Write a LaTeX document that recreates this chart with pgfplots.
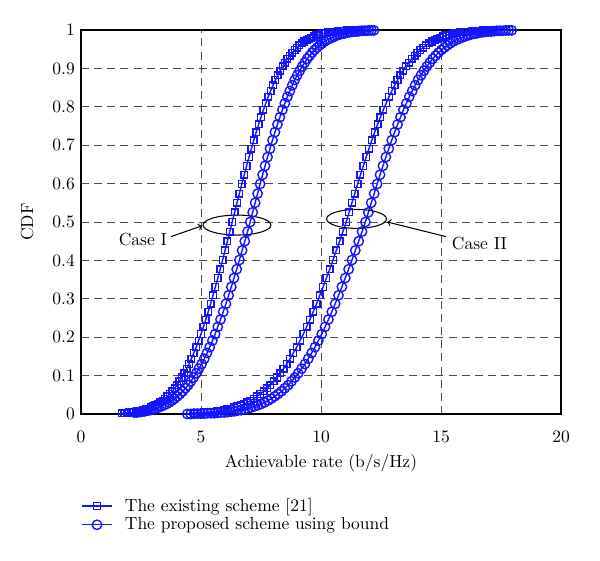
\documentclass[border=0pt]{standalone}
\usepackage{pgfplots}
\pgfplotsset{compat=1.18}
\usepackage{pgfplotstable}
\definecolor{cblue}{RGB}{20,20,255}
\pgfplotstableread{
c xa xb xc xd
0.000 nan nan nan 4.43
0.000 nan nan nan 4.57
0.001 nan nan nan 4.71
0.001 nan nan nan 4.85
0.001 nan nan nan 4.99
0.001 nan nan nan 5.13
0.002 nan nan nan 5.27
0.002 1.7 nan 4.725 5.41
0.002 1.8 nan 4.863 5.55
0.003 1.9 nan 5.0 5.69
0.004 2.0 2.213 5.138 5.83
0.004 2.1 2.325 5.275 5.97
0.005 2.2 2.438 5.413 6.11
0.006 2.3 2.55 5.55 6.25
0.007 2.4 2.663 5.688 6.39
0.009 2.5 2.775 5.825 6.53
0.010 2.6 2.888 5.963 6.67
0.012 2.7 3.0 6.1 6.81
0.014 2.8 3.113 6.238 6.95
0.017 2.9 3.225 6.375 7.09
0.020 3.0 3.338 6.513 7.23
0.023 3.1 3.45 6.65 7.37
0.026 3.2 3.563 6.788 7.51
0.030 3.3 3.675 6.925 7.65
0.035 3.4 3.788 7.063 7.79
0.040 3.5 3.9 7.2 7.93
0.046 3.6 4.013 7.338 8.07
0.052 3.7 4.125 7.475 8.21
0.059 3.8 4.238 7.613 8.35
0.067 3.9 4.35 7.75 8.49
0.075 4.0 4.463 7.888 8.63
0.085 4.1 4.575 8.025 8.77
0.095 4.2 4.688 8.163 8.91
0.106 4.3 4.8 8.3 9.05
0.118 4.4 4.913 8.438 9.19
0.130 4.5 5.025 8.575 9.33
0.144 4.6 5.138 8.713 9.47
0.159 4.7 5.25 8.85 9.61
0.174 4.8 5.363 8.988 9.75
0.191 4.9 5.475 9.125 9.89
0.208 5.0 5.588 9.263 10.03
0.227 5.1 5.7 9.4 10.17
0.246 5.2 5.813 9.538 10.31
0.266 5.3 5.925 9.675 10.45
0.287 5.4 6.038 9.813 10.59
0.309 5.5 6.15 9.95 10.73
0.331 5.6 6.263 10.088 10.87
0.354 5.7 6.375 10.225 11.01
0.377 5.8 6.488 10.363 11.15
0.401 5.9 6.6 10.5 11.29
0.426 6.0 6.713 10.638 11.43
0.450 6.1 6.825 10.775 11.57
0.475 6.2 6.938 10.913 11.71
0.500 6.3 7.05 11.05 11.85
0.525 6.4 7.153 11.169 11.972
0.550 6.5 7.256 11.288 12.094
0.574 6.6 7.359 11.406 12.216
0.599 6.7 7.463 11.525 12.338
0.623 6.8 7.566 11.644 12.459
0.646 6.9 7.669 11.763 12.581
0.669 7.0 7.772 11.881 12.703
0.691 7.1 7.875 12.0 12.825
0.713 7.2 7.978 12.119 12.947
0.734 7.3 8.081 12.238 13.069
0.754 7.4 8.184 12.356 13.191
0.773 7.5 8.288 12.475 13.313
0.792 7.6 8.391 12.594 13.434
0.809 7.7 8.494 12.713 13.556
0.826 7.8 8.597 12.831 13.678
0.841 7.9 8.7 12.95 13.8
0.856 8.0 8.803 13.069 13.922
0.870 8.1 8.906 13.188 14.044
0.882 8.2 9.009 13.306 14.166
0.894 8.3 9.113 13.425 14.288
0.905 8.4 9.216 13.544 14.409
0.915 8.5 9.319 13.663 14.531
0.925 8.6 9.422 13.781 14.653
0.933 8.7 9.525 13.9 14.775
0.941 8.8 9.628 14.019 14.897
0.948 8.9 9.731 14.138 15.019
0.954 9.0 9.834 14.256 15.141
0.960 9.1 9.938 14.375 15.263
0.965 9.2 10.041 14.494 15.384
0.970 9.3 10.144 14.613 15.506
0.974 9.4 10.247 14.731 15.628
0.977 9.5 10.35 14.85 15.75
0.980 9.6 10.453 14.969 15.872
0.983 9.7 10.556 15.088 15.994
0.986 9.8 10.659 15.206 16.116
0.988 9.9 10.763 15.325 16.238
0.990 10.0 10.866 15.444 16.359
0.991 10.1 10.969 15.563 16.481
0.993 10.2 11.072 15.681 16.603
0.994 10.3 11.175 15.8 16.725
0.995 10.4 11.278 15.919 16.847
0.996 10.5 11.381 16.038 16.969
0.996 10.6 11.484 16.156 17.091
0.997 10.7 11.588 16.275 17.213
0.998 10.8 11.691 16.394 17.334
0.998 10.9 11.794 16.513 17.456
0.998 11.0 11.897 16.631 17.578
0.999 11.1 12.0 16.75 17.7
0.999 11.2 12.103 16.869 17.822
0.999 11.3 12.206 16.988 17.944
0.999 11.4 nan 17.106 nan
1.000 11.5 nan 17.225 nan
1.000 11.6 nan 17.344 nan
1.000 11.7 nan nan nan
1.000 11.8 nan nan nan
}\cdfdata
\begin{document}
\begin{tikzpicture}
\useasboundingbox (-46.29pt,-84pt) rectangle (296.57pt,236.57pt);
\begin{axis}[
  at={(0,0)}, anchor=south west,
  scale only axis, width=274.29pt, height=219.43pt,
  xmin=0, xmax=20, ymin=0, ymax=1,
  xtick={0,5,10,15,20},
  ytick={0,0.1,0.2,0.3,0.4,0.5,0.6,0.7,0.8,0.9,1},
  major tick length=0pt,
  xticklabel style={yshift=-6.5pt},
  ylabel style={at={(axis description cs:-0.112,0.5)}, anchor=center},
  grid=major,
  major grid style={dash pattern=on 4.6pt off 2.9pt, black!70, line width=0.5pt},
  axis line style={black, line width=0.6pt},
  xlabel={Achievable rate (b/s/Hz)},
  ylabel={CDF},
  clip=false,
  unbounded coords=discard,
  legend style={at={(0,-0.2)}, anchor=north west, draw=none, fill=none,
    inner xsep=0pt, row sep=-2pt,
    /tikz/every odd column/.append style={column sep=5pt}},
  legend cell align=left,
]
\addplot[cblue, line width=0.8pt, mark=square, mark size=1.9pt, mark options={solid, cblue, line width=0.8pt}]
  table[x=xa, y=c] {\cdfdata};
\addlegendentry{The existing scheme [21]}
\addplot[cblue, line width=0.8pt, mark=o, mark size=2.7pt, mark options={solid, cblue, line width=0.8pt}]
  table[x=xb, y=c] {\cdfdata};
\addlegendentry{The proposed scheme using bound}
\addplot[cblue, line width=0.8pt, mark=square, mark size=1.9pt, mark options={solid, cblue, line width=0.8pt}, forget plot]
  table[x=xc, y=c] {\cdfdata};
\addplot[cblue, line width=0.8pt, mark=o, mark size=2.7pt, mark options={solid, cblue, line width=0.8pt}, forget plot]
  table[x=xd, y=c] {\cdfdata};
\draw[line width=0.6pt] (axis cs:6.5,0.492) ellipse [x radius=19.4pt, y radius=5.7pt];
\node at (axis cs:2.58,0.455) {Case I};
\draw[->, line width=0.6pt] (axis cs:3.75,0.462) -- (axis cs:5.04,0.49);
\draw[line width=0.6pt] (axis cs:11.48,0.508) ellipse [x radius=17.1pt, y radius=5.4pt];
\node at (axis cs:16.6,0.444) {Case II};
\draw[->, line width=0.6pt] (axis cs:15.2,0.462) -- (axis cs:12.76,0.50);
\end{axis}
\end{tikzpicture}
\end{document}
